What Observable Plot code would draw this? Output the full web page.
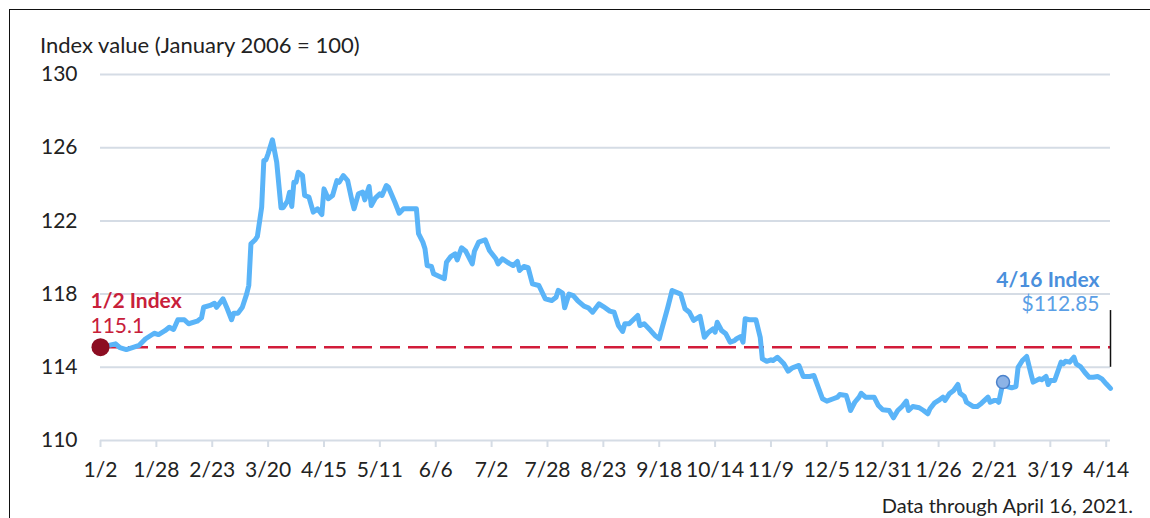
<!DOCTYPE html>
<html>
<head>
<meta charset="utf-8">
<script src="https://cdn.jsdelivr.net/npm/d3@7"></script>
<script src="https://cdn.jsdelivr.net/npm/@observablehq/plot@0.6"></script>
<style>
  html, body { margin: 0; padding: 0; background: #fff; }
  body { width: 1150px; height: 518px; position: relative; overflow: hidden; font-family: Lato, sans-serif; color: #222; }
  #frame { position: absolute; left: 9px; top: 9px; width: 1200px; height: 600px; border-left: 1.5px solid #111; border-top: 1.5px solid #111; }
  #title { position: absolute; left: 40px; top: 34px; font-size: 22px; line-height: 22px; white-space: nowrap; }
  #chart { position: absolute; left: 0; top: 60px; }
  #caption { position: absolute; right: 17px; top: 495px; font-size: 20px; line-height: 20px; white-space: nowrap; }
</style>
</head>
<body>
<div id="frame"></div>
<div id="title">Index value (January 2006 = 100)</div>
<div id="chart"></div>
<div id="caption">Data through April 16, 2021.</div>
<script>
const dates = [
  "2020-01-02","2020-01-09","2020-01-11","2020-01-14","2020-01-20","2020-01-23","2020-01-27","2020-01-29",
  "2020-02-01","2020-02-03","2020-02-05","2020-02-07","2020-02-10","2020-02-12","2020-02-16","2020-02-18",
  "2020-02-19","2020-02-22","2020-02-24","2020-02-25","2020-02-28","2020-03-01","2020-03-03","2020-03-04",
  "2020-03-06","2020-03-08","2020-03-10","2020-03-11","2020-03-12","2020-03-14","2020-03-15","2020-03-17",
  "2020-03-18","2020-03-19","2020-03-20","2020-03-22","2020-03-24","2020-03-26","2020-03-27","2020-03-29",
  "2020-03-30","2020-03-31","2020-04-01","2020-04-02","2020-04-03","2020-04-05","2020-04-06","2020-04-08",
  "2020-04-10","2020-04-12","2020-04-14","2020-04-15","2020-04-17","2020-04-19","2020-04-21","2020-04-22",
  "2020-04-24","2020-04-26","2020-04-28","2020-04-29","2020-05-01","2020-05-03","2020-05-04","2020-05-06",
  "2020-05-07","2020-05-09","2020-05-11","2020-05-12","2020-05-14","2020-05-15","2020-05-18","2020-05-20",
  "2020-05-22","2020-05-28","2020-05-29","2020-05-31","2020-06-01","2020-06-02","2020-06-04","2020-06-05",
  "2020-06-10","2020-06-11","2020-06-13","2020-06-15","2020-06-16","2020-06-18","2020-06-20","2020-06-23",
  "2020-06-24","2020-06-26","2020-06-29","2020-07-01","2020-07-04","2020-07-05","2020-07-07","2020-07-10",
  "2020-07-12","2020-07-14","2020-07-15","2020-07-17","2020-07-19","2020-07-21","2020-07-24","2020-07-27",
  "2020-07-30","2020-08-01","2020-08-02","2020-08-04","2020-08-05","2020-08-07","2020-08-09","2020-08-11",
  "2020-08-14","2020-08-16","2020-08-18","2020-08-21","2020-08-23","2020-08-26","2020-08-28","2020-08-30",
  "2020-09-01","2020-09-02","2020-09-04","2020-09-08","2020-09-09","2020-09-11","2020-09-14","2020-09-16",
  "2020-09-18","2020-09-19","2020-09-22","2020-09-24","2020-09-28","2020-09-30","2020-10-02","2020-10-04",
  "2020-10-07","2020-10-09","2020-10-11","2020-10-13","2020-10-14","2020-10-15","2020-10-17","2020-10-19",
  "2020-10-21","2020-10-23","2020-10-24","2020-10-26","2020-10-27","2020-10-28","2020-10-30","2020-11-02",
  "2020-11-04","2020-11-05","2020-11-07","2020-11-09","2020-11-10","2020-11-12","2020-11-15","2020-11-17",
  "2020-11-19","2020-11-22","2020-11-24","2020-11-27","2020-11-29","2020-12-01","2020-12-03","2020-12-05",
  "2020-12-08","2020-12-10","2020-12-11","2020-12-14","2020-12-15","2020-12-16","2020-12-18","2020-12-20",
  "2020-12-21","2020-12-23","2020-12-27","2020-12-29","2020-12-31","2021-01-03","2021-01-05","2021-01-07",
  "2021-01-09","2021-01-11","2021-01-12","2021-01-14","2021-01-17","2021-01-19","2021-01-21","2021-01-22",
  "2021-01-24","2021-01-26","2021-01-28","2021-01-29","2021-01-31","2021-02-02","2021-02-04","2021-02-05",
  "2021-02-07","2021-02-08","2021-02-11","2021-02-13","2021-02-15","2021-02-18","2021-02-19","2021-02-21",
  "2021-02-22","2021-02-23","2021-02-25","2021-02-27","2021-03-01","2021-03-03","2021-03-04","2021-03-06",
  "2021-03-08","2021-03-10","2021-03-11","2021-03-14","2021-03-15","2021-03-17","2021-03-18","2021-03-19",
  "2021-03-21","2021-03-24","2021-03-25","2021-03-26","2021-03-28","2021-03-30","2021-03-31","2021-04-02",
  "2021-04-04","2021-04-06","2021-04-08","2021-04-10","2021-04-12","2021-04-14","2021-04-16"
];
const values = [
  115.1,115.28,115.07,114.97,115.2,115.56,115.86,115.79,
  116.0,116.19,116.07,116.6,116.6,116.38,116.52,116.7,
  117.28,117.38,117.5,117.28,117.74,117.2,116.6,116.96,
  116.96,117.28,118.0,118.47,120.75,120.97,121.15,122.75,
  125.3,125.34,125.67,126.43,125.21,122.72,122.72,123.08,
  123.57,122.79,124.11,124.11,124.66,124.48,123.39,123.3,
  122.48,122.66,122.35,123.75,123.21,123.39,124.2,124.11,
  124.48,124.2,123.11,122.66,123.48,123.57,123.15,123.88,
  122.84,123.26,123.48,123.39,123.93,123.84,123.02,122.42,
  122.66,122.66,121.3,120.84,120.48,119.56,119.51,119.11,
  118.84,119.74,120.05,120.2,119.87,120.53,120.34,119.65,
  120.34,120.84,120.97,120.38,119.93,119.65,119.93,119.69,
  119.56,119.78,119.29,119.51,119.44,118.56,118.47,117.74,
  117.65,117.83,118.2,118.05,117.25,118.0,117.92,117.65,
  117.34,117.25,117.01,117.47,117.32,117.07,117.01,116.28,
  115.96,116.38,116.38,116.83,116.28,116.38,116.01,115.74,
  115.56,116.01,117.28,118.2,118.0,117.2,117.01,116.56,
  116.78,115.64,115.92,116.1,115.92,116.46,116.01,115.83,
  115.37,115.46,115.56,115.68,115.37,116.65,116.6,116.6,
  115.64,114.46,114.33,114.41,114.37,114.55,114.19,113.79,
  113.97,114.1,113.5,113.5,113.55,112.91,112.28,112.15,
  112.28,112.37,112.51,112.46,112.09,111.64,112.09,112.37,
  112.58,112.37,112.37,111.91,111.68,111.64,111.24,111.64,
  111.86,112.15,111.64,111.86,111.79,111.64,111.46,111.73,
  112.04,112.19,112.37,112.19,112.55,112.73,113.06,112.58,
  112.4,112.09,111.86,111.86,112.04,112.37,112.09,112.19,
  112.19,112.09,113.19,112.95,112.88,112.95,114.0,114.37,
  114.59,113.64,113.19,113.37,113.32,113.5,113.06,113.28,
  113.28,114.28,114.19,114.33,114.28,114.55,114.19,114.04,
  113.73,113.46,113.46,113.5,113.37,113.1,112.85
];
const xTickDates = [
  "2020-01-02","2020-01-28","2020-02-23","2020-03-20","2020-04-15","2020-05-11","2020-06-06",
  "2020-07-02","2020-07-28","2020-08-23","2020-09-18","2020-10-14","2020-11-09","2020-12-05",
  "2020-12-31","2021-01-26","2021-02-21","2021-03-19","2021-04-14"
];
const yTicks = [110, 114, 118, 122, 126, 130];
const startDate = "2020-01-02", startValue = 115.1, startLabel = "1/2 Index", startValueLabel = "115.1";
const endDate = "2021-04-16", endValue = 112.85, endLabel = "4/16 Index", endValueLabel = "$112.85";
const highlightDate = "2021-02-25", highlightValue = 113.19;
const markerRange = [114, 117.1];

const series = dates.map((d, i) => ({date: new Date(d), value: values[i]}));
const xTicks = xTickDates.map(d => new Date(d));
const lineBlue = "#5ab4f8";
const red = "#d21c3a";

const chart = Plot.plot({
  width: 1150,
  height: 425,
  marginLeft: 100,
  marginRight: 40,
  marginTop: 14,
  marginBottom: 45,
  style: {fontFamily: "Lato, sans-serif", fontSize: "21px", color: "#222", background: "transparent", overflow: "visible"},
  x: {type: "utc", domain: [new Date(startDate), new Date(endDate)], axis: null},
  y: {domain: [110, 130], axis: null},
  marks: [
    Plot.gridY(yTicks, {stroke: "#d5dce5", strokeOpacity: 1, strokeWidth: 2}),
    Plot.axisX(xTicks, {tickSize: 7, tickPadding: 15, stroke: "#d5dce5", strokeWidth: 2, fill: "#222", fontSize: 21, tickFormat: d3.utcFormat("%-m/%-d"), label: null}),
    Plot.axisY(yTicks, {tickSize: 0, tickPadding: 23, fill: "#222", fontSize: 21, label: null}),
    Plot.ruleY([{y: startValue, x1: new Date(startDate), x2: new Date(endDate)}], {y: "y", x1: "x1", x2: "x2", stroke: red, strokeWidth: 2.5, strokeDasharray: "20,8"}),
    Plot.ruleX([{x: new Date(endDate), y1: markerRange[0], y2: markerRange[1]}], {x: "x", y1: "y1", y2: "y2", stroke: "#111", strokeWidth: 1.5}),
    Plot.line(series, {x: "date", y: "value", stroke: lineBlue, strokeWidth: 5, strokeLinejoin: "round", strokeLinecap: "round"}),
    Plot.dot([{x: new Date(startDate), y: startValue}], {x: "x", y: "y", r: 9, fill: "#8c0d22", stroke: "none"}),
    Plot.dot([{x: new Date(highlightDate), y: highlightValue}], {x: "x", y: "y", r: 6.5, fill: "#8db3e6", stroke: "#4b82cc", strokeWidth: 1.5}),
    Plot.text([{x: new Date(startDate), y: startValue, t: startLabel}], {x: "x", y: "y", text: "t", textAnchor: "start", lineAnchor: "bottom", dx: -10, dy: -39, fill: "#c8203a", fontWeight: "bold", fontSize: 21}),
    Plot.text([{x: new Date(startDate), y: startValue, t: startValueLabel}], {x: "x", y: "y", text: "t", textAnchor: "start", lineAnchor: "bottom", dx: -10, dy: -14, fill: "#c8203a", fontSize: 21}),
    Plot.text([{x: new Date(endDate), y: endValue, t: endLabel}], {x: "x", y: "y", text: "t", textAnchor: "end", lineAnchor: "bottom", dx: -11, dy: -101, fill: "#4a8fdc", fontWeight: "bold", fontSize: 21}),
    Plot.text([{x: new Date(endDate), y: endValue, t: endValueLabel}], {x: "x", y: "y", text: "t", textAnchor: "end", lineAnchor: "bottom", dx: -11, dy: -77, fill: "#5b9fe6", fontSize: 21})
  ]
});
document.getElementById("chart").appendChild(chart);
</script>
</body>
</html>
